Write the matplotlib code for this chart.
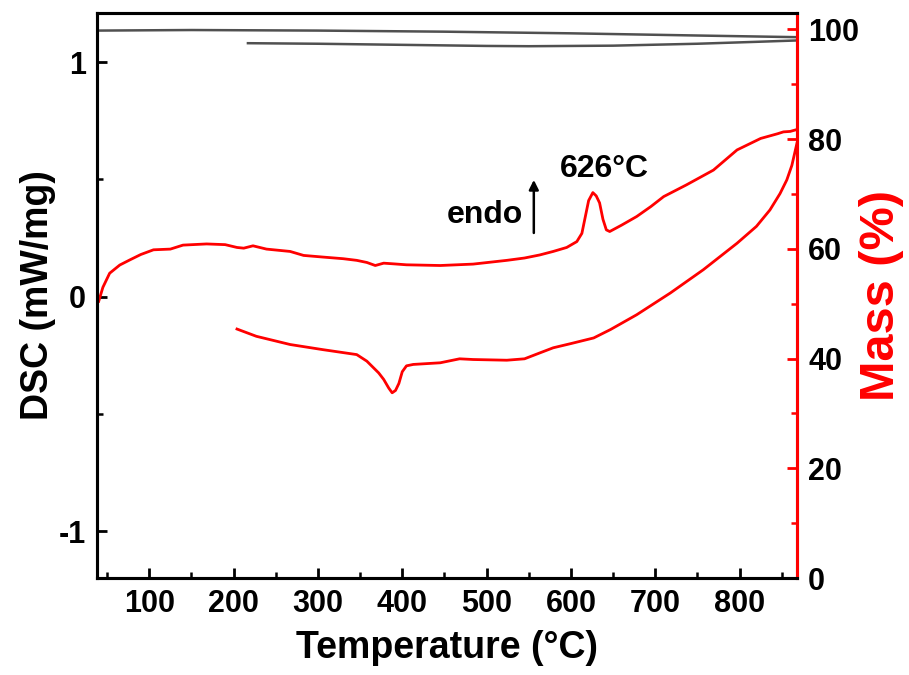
import matplotlib.pyplot as plt

plt.rcParams['font.family'] = ['Liberation Sans', 'DejaVu Sans']
plt.rcParams['font.weight'] = 'bold'
plt.rcParams['axes.unicode_minus'] = False

# DSC heating curve (mW/mg)
heat_t = [40, 45, 53, 65, 77, 90, 105, 125, 140, 168, 190, 204, 212, 223, 239, 267,
          283, 306, 330, 346, 358, 368, 378, 390, 405, 445, 484, 524, 545, 563, 579,
          595, 607, 613, 617, 621, 626, 630, 634, 638, 642, 646, 660, 678, 695, 710,
          737, 769, 797, 825, 845, 852, 860, 868]
heat_dsc = [-0.02, 0.04, 0.10, 0.135, 0.157, 0.18, 0.20, 0.203, 0.22, 0.225, 0.222,
            0.21, 0.207, 0.217, 0.203, 0.193, 0.176, 0.169, 0.162, 0.155, 0.146, 0.133,
            0.143, 0.14, 0.136, 0.133, 0.139, 0.155, 0.165, 0.178, 0.193, 0.21, 0.235,
            0.27, 0.34, 0.41, 0.444, 0.43, 0.40, 0.33, 0.285, 0.278, 0.305, 0.342,
            0.385, 0.427, 0.477, 0.54, 0.626, 0.675, 0.695, 0.703, 0.705, 0.713]

# DSC cooling curve
cool_t = [204, 227, 267, 306, 346, 358, 365, 372, 378, 384, 388, 392, 396, 400, 405,
          413, 445, 468, 484, 524, 545, 563, 579, 600, 627, 647, 678, 718, 757, 797,
          820, 836, 848, 856, 862, 868]
cool_dsc = [-0.138, -0.169, -0.204, -0.226, -0.247, -0.275, -0.30, -0.325, -0.353,
            -0.39, -0.41, -0.40, -0.37, -0.32, -0.295, -0.289, -0.282, -0.265, -0.268,
            -0.271, -0.265, -0.24, -0.218, -0.20, -0.176, -0.14, -0.077, 0.016, 0.115,
            0.228, 0.30, 0.37, 0.44, 0.498, 0.56, 0.654]

# TG mass curves (%)
mass_heat_t = [40, 150, 300, 450, 600, 750, 868]
mass_heat = [99.8, 99.9, 99.8, 99.6, 99.3, 98.9, 98.6]
mass_cool_t = [217, 300, 400, 500, 550, 650, 750, 820, 868]
mass_cool = [97.5, 97.4, 97.2, 97.0, 96.95, 97.05, 97.4, 97.75, 98.0]

fig = plt.figure(figsize=(9.09, 6.75), dpi=100)
ax = fig.add_axes([0.1067, 0.1437, 0.77, 0.837])
ax2 = ax.twinx()

ax.plot(heat_t, heat_dsc, color='#ff0000', lw=2)
ax.plot(cool_t, cool_dsc, color='#ff0000', lw=2)
ax2.plot(mass_heat_t, mass_heat, color='#505050', lw=1.8)
ax2.plot(mass_cool_t, mass_cool, color='#505050', lw=1.8)

ax.set_xlim(38, 868)
ax.set_ylim(-1.2, 1.21)
ax2.set_ylim(0, 103)

ax.set_xticks([100, 200, 300, 400, 500, 600, 700, 800])
ax.set_xticks(range(50, 868, 100), minor=True)
ax.set_yticks([-1, 0, 1])
ax.set_yticks([-0.5, 0.5], minor=True)
ax2.set_yticks([0, 20, 40, 60, 80, 100])
ax2.set_yticks([10, 30, 50, 70, 90], minor=True)

for a in (ax, ax2):
    for s in a.spines.values():
        s.set_linewidth(2.2)
ax2.spines['right'].set_color('#ff0000')

ax.tick_params(axis='both', which='major', direction='in', length=7, width=2,
               labelsize=22, pad=8)
ax.tick_params(axis='both', which='minor', direction='in', length=4, width=1.8)
ax.tick_params(axis='y', right=False)
ax2.tick_params(axis='y', which='major', direction='in', length=7, width=2,
                color='#ff0000', labelsize=22, pad=8, labelcolor='black')
ax2.tick_params(axis='y', which='minor', direction='in', length=4, width=1.8,
                color='#ff0000')
for lab in ax.get_xticklabels() + ax.get_yticklabels() + ax2.get_yticklabels():
    lab.set_fontweight('bold')

ax.set_xlabel('Temperature (°C)', fontsize=27, fontweight='bold', labelpad=8)
ax.set_ylabel('DSC (mW/mg)', fontsize=27, fontweight='bold', labelpad=2)
ax2.set_ylabel('Mass (%)', fontsize=35, fontweight='bold', color='#ff0000', labelpad=0)

ax.text(640, 0.48, '626°C', fontsize=23, fontweight='bold', ha='center', va='bottom')
ax.text(543, 0.35, 'endo', fontsize=23, fontweight='bold', ha='right', va='center')
ax.annotate('', xy=(556, 0.51), xytext=(556, 0.26),
            arrowprops=dict(arrowstyle='-|>', color='black', lw=1.8, mutation_scale=14))

fig.savefig('out.png', dpi=100)
